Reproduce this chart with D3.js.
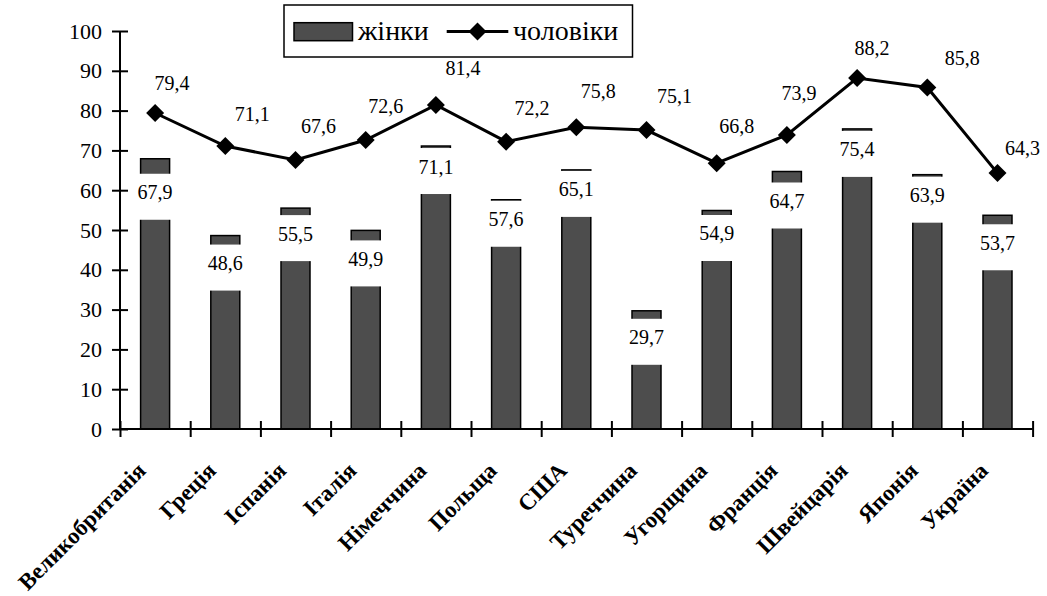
<!DOCTYPE html>
<html>
<head>
<meta charset="utf-8">
<script src="https://cdn.jsdelivr.net/npm/d3@7"></script>
<style>
  html, body { margin: 0; padding: 0; background: #fff; }
  svg { display: block; }
</style>
</head>
<body>
<svg id="chart" width="1047" height="596"></svg>
<script>
// ---- data ----
const categories = ["Великобританія","Греція","Іспанія","Італія","Німеччина","Польща","США","Туреччина","Угорщина","Франція","Швейцарія","Японія","Україна"];
const women = [67.9, 48.6, 55.5, 49.9, 71.1, 57.6, 65.1, 29.7, 54.9, 64.7, 75.4, 63.9, 53.7];
const men   = [79.4, 71.1, 67.6, 72.6, 81.4, 72.2, 75.8, 75.1, 66.8, 73.9, 88.2, 85.8, 64.3];
const yTicks = [0, 10, 20, 30, 40, 50, 60, 70, 80, 90, 100];
const seriesNames = ["жінки", "чоловіки"];

// ---- layout (label placement, px) ----
const womenLabelGap = [15, 9, 7, 10, 2, 1, 1, 8, 4.5, 11, 2, 2, 9];
const menLabelNudge = [[17,-30],[27,-33],[23,-34],[20,-35],[27,-38],[26,-34],[22,-37],[28,-35],[20,-38],[12,-42],[15,-30],[35,-30],[25,-26]];

const FONT = 'Liberation Serif, Times New Roman, Tinos, Noto Serif, DejaVu Serif, serif';
const svg = d3.select("#chart");
const pL = 120, pR = 1032.6, pT = 31, pB = 429;

const x = d3.scaleBand().domain(categories).range([pL, pR]).padding(0);
const xi = d3.scaleLinear().domain([0, categories.length]).range([pL, pR]);
const y = d3.scaleLinear().domain([0, 100]).range([pB, pT]);
const bw = x.bandwidth() * 0.413;
const cx = c => x(c) + x.bandwidth() / 2;
const barFill = "#4d4d4d";

// bars
svg.append("g").selectAll("rect").data(categories).join("rect")
  .attr("x", c => cx(c) - bw / 2)
  .attr("y", (c, i) => y(women[i]))
  .attr("width", bw)
  .attr("height", (c, i) => y(0) - y(women[i]))
  .attr("fill", barFill).attr("stroke", "#000").attr("stroke-width", 1.5);

// white label boxes over the bars
const boxH = 46, boxW = 44;
svg.append("g").selectAll("rect").data(categories).join("rect")
  .attr("x", c => cx(c) - boxW / 2)
  .attr("y", (c, i) => y(women[i]) + womenLabelGap[i])
  .attr("width", boxW).attr("height", boxH)
  .attr("fill", "#fff");

svg.append("g").selectAll("text").data(categories).join("text")
  .attr("x", c => cx(c))
  .attr("y", (c, i) => y(women[i]) + womenLabelGap[i] + 25.5)
  .attr("text-anchor", "middle")
  .style("font-family", FONT).style("font-size", "20px")
  .text((c, i) => String(women[i]).replace(".", ","));

// y axis
const yAxis = svg.append("g").attr("transform", `translate(${pL},0)`)
  .call(d3.axisLeft(y).tickValues(yTicks).tickSize(8).tickPadding(10).tickFormat(d => d));
yAxis.select(".domain").attr("stroke", "#000").attr("stroke-width", 2).attr("d", `M0,${pB}V${pT}`);
yAxis.selectAll(".tick line").attr("x1", -8).attr("x2", 8).attr("stroke", "#000").attr("stroke-width", 2);
yAxis.selectAll(".tick text").attr("fill", "#000").style("font-family", FONT).style("font-size", "22px");

// x axis (ticks at category boundaries)
const xAxis = svg.append("g").attr("transform", `translate(0,${pB})`)
  .call(d3.axisBottom(xi).tickValues(d3.range(categories.length + 1)).tickSize(8).tickFormat(""));
xAxis.select(".domain").attr("stroke", "#000").attr("stroke-width", 2).attr("d", `M${pL},0H${pR}`);
xAxis.selectAll(".tick line").attr("y1", -8).attr("y2", 8).attr("stroke", "#000").attr("stroke-width", 2);

// category labels
svg.append("g").selectAll("text").data(categories).join("text")
  .attr("transform", c => `translate(${cx(c) - 8},472) rotate(-45)`)
  .attr("text-anchor", "end")
  .style("font-family", FONT).style("font-size", "23px").style("font-weight", "bold")
  .text(c => c);

// men line
const line = d3.line().x((d, i) => cx(categories[i])).y(d => y(d));
svg.append("path").datum(men).attr("d", line)
  .attr("fill", "none").attr("stroke", "#000").attr("stroke-width", 3).attr("stroke-linejoin", "miter");

const diamond = (px, py, r) => `M${px},${py - r}L${px + r},${py}L${px},${py + r}L${px - r},${py}Z`;
svg.append("g").selectAll("path").data(men).join("path")
  .attr("d", (d, i) => diamond(cx(categories[i]), y(d), 9))
  .attr("fill", "#000");

svg.append("g").selectAll("text").data(men).join("text")
  .attr("x", (d, i) => cx(categories[i]) + menLabelNudge[i][0])
  .attr("y", (d, i) => y(d) + menLabelNudge[i][1] + 7.5)
  .attr("text-anchor", "middle")
  .style("font-family", FONT).style("font-size", "20px")
  .text(d => String(d).replace(".", ","));

// legend
const lg = svg.append("g");
lg.append("rect").attr("x", 284).attr("y", 5).attr("width", 348.5).attr("height", 52)
  .attr("fill", "#fff").attr("stroke", "#000").attr("stroke-width", 1.5);
lg.append("rect").attr("x", 294).attr("y", 22.7).attr("width", 58.5).attr("height", 18)
  .attr("fill", barFill).attr("stroke", "#000").attr("stroke-width", 1.5);
lg.append("text").attr("x", 358).attr("y", 40).style("font-family", FONT).style("font-size", "28px").text(seriesNames[0]);
lg.append("line").attr("x1", 446.7).attr("x2", 508.3).attr("y1", 31.5).attr("y2", 31.5)
  .attr("stroke", "#000").attr("stroke-width", 3);
lg.append("path").attr("d", diamond(477.5, 31.5, 9)).attr("fill", "#000");
lg.append("text").attr("x", 513).attr("y", 40).style("font-family", FONT).style("font-size", "28px").text(seriesNames[1]);
</script>
</body>
</html>
